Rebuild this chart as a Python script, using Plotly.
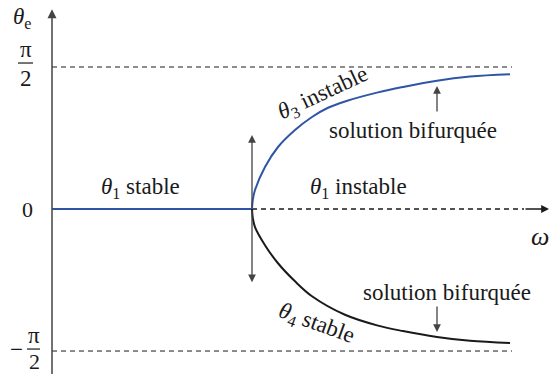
import numpy as np
import plotly.graph_objects as go

# omega (bifurcation at omega = 1) and theta_e in radians
omega_stable = [0.0, 1.0]
theta1_stable = [0.0, 0.0]

omega_unstable = [1.0, 2.36]
theta1_unstable = [0.0, 0.0]

omega_up = [1.0, 1.004, 1.015, 1.065, 1.13, 1.215, 1.30, 1.38, 1.465, 1.63, 1.755, 1.925, 2.09, 2.29]
theta3 = [0.0, 0.10, 0.21, 0.465, 0.686, 0.874, 1.018, 1.12, 1.19, 1.29, 1.35, 1.42, 1.465, 1.49]

omega_down = [1.0, 1.004, 1.015, 1.065, 1.13, 1.215, 1.30, 1.465, 1.63, 1.755, 1.925, 2.09, 2.29]
theta4 = [0.0, -0.10, -0.20, -0.40, -0.60, -0.80, -0.965, -1.17, -1.29, -1.35, -1.415, -1.458, -1.482]

omega_max = 2.30
half_pi = np.pi / 2

serif = "Liberation Serif"
ink = "#1a1a1a"
axis_col = "#444444"
blue = "#2f55a4"

fig = go.Figure()

fig.add_trace(go.Scatter(x=omega_stable, y=theta1_stable, mode="lines",
                         line=dict(color=blue, width=2)))
fig.add_trace(go.Scatter(x=omega_unstable, y=theta1_unstable, mode="lines",
                         line=dict(color=ink, width=1.5, dash="5px,4px")))
fig.add_trace(go.Scatter(x=omega_up, y=theta3, mode="lines", line_shape="spline",
                         line=dict(color=blue, width=2)))
fig.add_trace(go.Scatter(x=omega_down, y=theta4, mode="lines", line_shape="spline",
                         line=dict(color=ink, width=2)))

# dashed asymptotes at +/- pi/2
for yv in [half_pi, -half_pi]:
    fig.add_shape(type="line", x0=0, x1=omega_max, y0=yv, y1=yv,
                  line=dict(color=ink, width=1, dash="5px,4px"))

# fraction bars for the tick labels
fig.add_shape(type="line", x0=-0.17, x1=-0.095, y0=1.615, y1=1.615, line=dict(color=ink, width=1.2))
fig.add_shape(type="line", x0=-0.125, x1=-0.06, y0=-1.549, y1=-1.549, line=dict(color=ink, width=1.2))

def arrow(x, y, ax, ay, color=axis_col, width=1.3, size=1.2):
    fig.add_annotation(x=x, y=y, ax=ax, ay=ay, xref="x", yref="y", axref="x", ayref="y",
                       text="", showarrow=True, arrowhead=2, arrowsize=size,
                       arrowwidth=width, arrowcolor=color)

# axes
arrow(0, 2.21, 0, -1.95, width=1.5)
arrow(2.485, 0, 2.36, 0, color=ink, width=1.3)
# perturbation arrows at the bifurcation point
arrow(1.0, 0.82, 1.0, 0.0)
arrow(1.0, -0.81, 1.0, 0.0)
# small arrows towards the bifurcated branches
arrow(1.925, 1.361, 1.925, 1.062)
arrow(1.925, -1.361, 1.925, -1.062)

def label(x, y, text, size=23, angle=0):
    fig.add_annotation(x=x, y=y, xref="x", yref="y", text=text, showarrow=False,
                       textangle=angle, font=dict(family=serif, size=size, color=ink))

label(-0.15, 2.11, "<i>θ</i><sub>e</sub>", size=23)
label(-0.13, 1.77, "π", size=23)
label(-0.13, 1.44, "2", size=23)
label(-0.125, 0.0, "0", size=22)
label(-0.18, -1.549, "−", size=23)
label(-0.09, -1.394, "π", size=23)
label(-0.09, -1.69, "2", size=22)
label(2.44, -0.30, "<i>ω</i>", size=26)

label(0.44, 0.232, "<i>θ</i><sub>1</sub> stable")
label(1.53, 0.232, "<i>θ</i><sub>1</sub> instable")
label(1.805, 0.863, "solution bifurquée")
label(1.975, -0.918, "solution bifurquée")
label(1.355, 1.272, "<i>θ</i><sub>3</sub> instable", angle=-25)
label(1.32, -1.27, "<i>θ</i><sub>4</sub> stable", angle=20)

fig.update_layout(
    width=551, height=374,
    margin=dict(l=0, r=0, t=0, b=0),
    font=dict(family=serif, color=ink),
    plot_bgcolor="white", paper_bgcolor="white",
    showlegend=False,
    xaxis=dict(range=[-0.26, 2.495], visible=False),
    yaxis=dict(range=[-1.825, 2.312], visible=False),
)

fig.write_html("out.html", config={"displayModeBar": False},
               post_script="document.body.style.margin='0';")
